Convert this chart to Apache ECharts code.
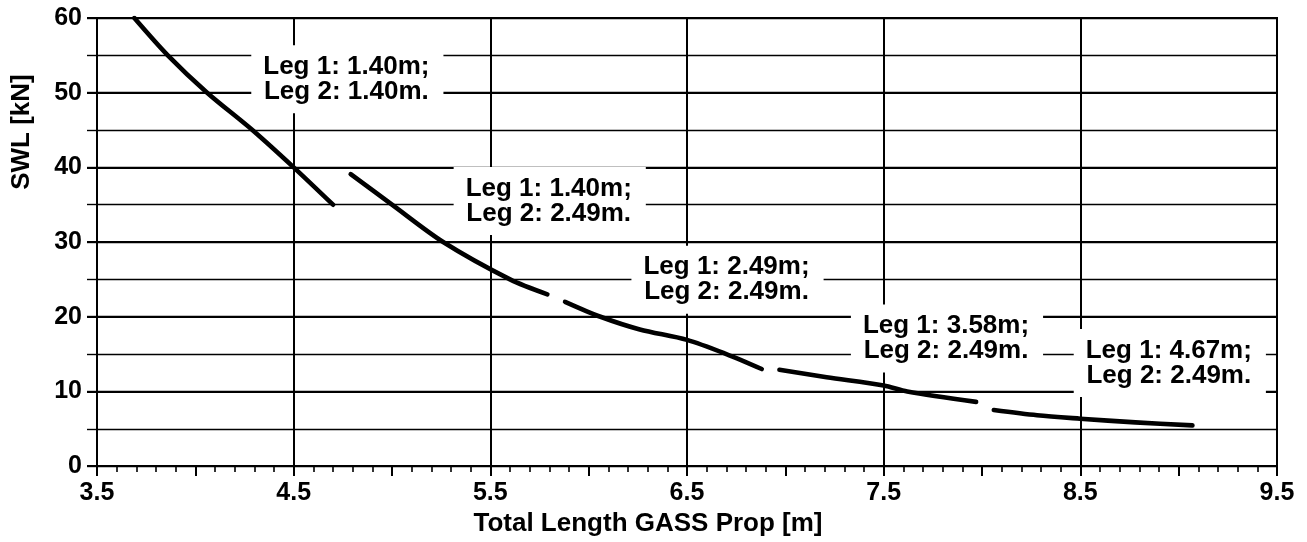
<!DOCTYPE html>
<html>
<head>
<meta charset="utf-8">
<script src="https://cdn.jsdelivr.net/npm/echarts@6/dist/echarts.min.js"></script>
<style>
html,body{margin:0;padding:0;background:#fff;}
#chart{width:1307px;height:542px;}
</style>
</head>
<body>
<div id="chart"></div>
<script>
// ---- data ----
const xTickLabels = ['3.5', '4.5', '5.5', '6.5', '7.5', '8.5', '9.5'];
const yTickLabels = ['0', '10', '20', '30', '40', '50', '60'];

const seg1X = [3.69, 3.86, 4.06, 4.29, 4.50, 4.70];
const seg1Y = [60.0, 55.0, 50.0, 45.0, 40.0, 35.0];

const seg2X = [4.79, 5.00, 5.26, 5.60, 5.79];
const seg2Y = [39.1, 35.0, 30.0, 25.0, 23.0];

const seg3X = [5.88, 6.06, 6.26, 6.50, 6.70, 6.88];
const seg3Y = [22.0, 20.0, 18.3, 16.9, 15.0, 13.0];

const seg4X = [6.97, 7.21, 7.50, 7.62, 7.97];
const seg4Y = [12.9, 11.9, 10.8, 10.0, 8.6];

const seg5X = [8.06, 8.28, 8.50, 8.78, 9.07];
const seg5Y = [7.5, 6.8, 6.35, 5.85, 5.45];

const noteTexts = [
  'Leg 1: 1.40m;\nLeg 2: 1.40m.',
  'Leg 1: 1.40m;\nLeg 2: 2.49m.',
  'Leg 1: 2.49m;\nLeg 2: 2.49m.',
  'Leg 1: 3.58m;\nLeg 2: 2.49m.',
  'Leg 1: 4.67m;\nLeg 2: 2.49m.'
];
const noteX = [4.773, 5.802, 6.706, 7.822, 8.955];
const noteY = [51.8, 35.5, 24.96, 17.1, 13.8];

const xName = 'Total Length GASS Prop [m]';
const yName = 'SWL [kN]';

// ---- chart ----
const FONT = "'Liberation Sans', Arial, Helvetica, sans-serif";
const segs = [[seg1X, seg1Y], [seg2X, seg2Y], [seg3X, seg3Y], [seg4X, seg4Y], [seg5X, seg5Y]];

const lineSeries = segs.map(function (s) {
  return {
    type: 'line',
    xAxisIndex: 0,
    yAxisIndex: 0,
    data: s[0].map(function (x, i) { return [x, s[1][i]]; }),
    showSymbol: false,
    symbol: 'none',
    smooth: 0.3,
    lineStyle: { color: '#000', width: 4.6, cap: 'round', join: 'round' },
    z: 5,
    silent: true
  };
});

const noteSeries = {
  type: 'scatter',
  xAxisIndex: 0,
  yAxisIndex: 0,
  symbolSize: 1,
  itemStyle: { color: 'rgba(0,0,0,0)', opacity: 1 },
  z: 3,
  silent: true,
  data: noteX.map(function (x, i) { return [x, noteY[i]]; }),
  label: {
    show: true,
    position: 'inside',
    formatter: function (p) { return noteTexts[p.dataIndex]; },
    backgroundColor: '#fff',
    opacity: 1,
    padding: [9, 14, 9, 12],
    color: '#000',
    fontFamily: FONT,
    fontWeight: 'bold',
    fontSize: 26,
    lineHeight: 25,
    align: 'center',
    verticalAlign: 'middle'
  }
};

function approxIn(list, v) {
  return list.some(function (t) { return Math.abs(parseFloat(t) - v) < 1e-6; });
}

const option = {
  backgroundColor: '#fff',
  animation: false,
  textStyle: { fontFamily: FONT, fontWeight: 'bold', color: '#000' },
  grid: {
    left: 97, right: 30, top: 18, bottom: 74,
    show: true, borderColor: '#000', borderWidth: 2, backgroundColor: 'transparent',
    containLabel: false
  },
  xAxis: [
    {
      type: 'value', min: 3.5, max: 9.5, interval: 1,
      position: 'bottom',
      name: xName, nameLocation: 'middle', nameGap: 40,
      nameTextStyle: { fontSize: 26, fontWeight: 'bold', color: '#000', fontFamily: FONT, padding: [0, 78, 0, 0] },
      axisLine: { show: true, lineStyle: { color: '#000', width: 2 } },
      axisTick: { show: false },
      axisLabel: {
        margin: 15, fontSize: 25, fontWeight: 'bold', color: '#000', fontFamily: FONT,
        formatter: function (v) { return approxIn(xTickLabels, v) ? v.toFixed(1) : ''; }
      },
      splitLine: { show: true, lineStyle: { color: '#000', width: 2 } }
    },
    {
      type: 'value', min: 3.5, max: 9.5, interval: 0.5,
      position: 'bottom', offset: 0,
      axisLine: { show: false },
      axisTick: { show: true, inside: false, length: 10, lineStyle: { color: '#000', width: 2 } },
      minorTick: { show: true, splitNumber: 5, length: 6, lineStyle: { color: '#000', width: 1.6 } },
      axisLabel: { show: false },
      splitLine: { show: false }
    }
  ],
  yAxis: [
    {
      type: 'value', min: 0, max: 60, interval: 10,
      position: 'left',
      name: yName, nameLocation: 'middle', nameGap: 62,
      nameTextStyle: { fontSize: 26, fontWeight: 'bold', color: '#000', fontFamily: FONT, padding: [0, 0, 0, 220] },
      axisLine: { show: true, lineStyle: { color: '#000', width: 2 } },
      axisTick: { show: true, inside: false, length: 10, lineStyle: { color: '#000', width: 2 } },
      axisLabel: {
        margin: 15, fontSize: 25, fontWeight: 'bold', color: '#000', fontFamily: FONT,
        formatter: function (v) { return approxIn(yTickLabels, v) ? String(v) : ''; }
      },
      splitLine: { show: true, lineStyle: { color: '#000', width: 2 } }
    },
    {
      type: 'value', min: 0, max: 60, interval: 5,
      position: 'left', offset: 0,
      axisLine: { show: false },
      axisTick: { show: true, inside: false, length: 10, lineStyle: { color: '#000', width: 1.4 } },
      axisLabel: { show: false },
      splitLine: { show: true, lineStyle: { color: '#000', width: 1.3 } }
    }
  ],
  series: lineSeries.concat([noteSeries])
};

const chart = echarts.init(document.getElementById('chart'), null, { renderer: 'canvas' });
chart.setOption(option);
</script>
</body>
</html>
